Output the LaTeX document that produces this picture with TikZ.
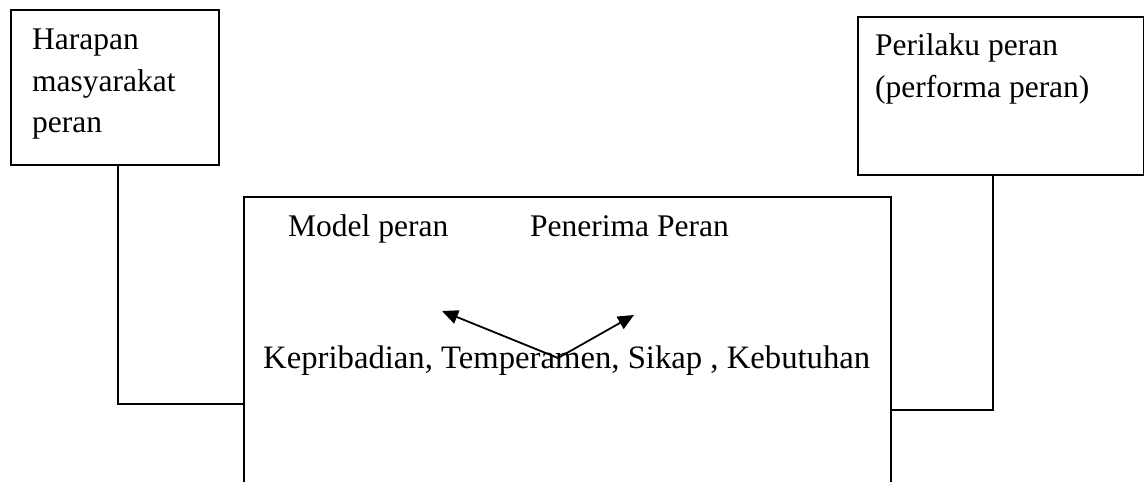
\documentclass[tikz,border=0pt]{standalone}
\usepackage{fontspec}
\setmainfont{Liberation Serif}
\usetikzlibrary{arrows.meta}
\begin{document}
\begin{tikzpicture}[x=1pt,y=-1pt,
  box/.style={draw, line width=2pt, rectangle, inner sep=0pt, anchor=north west},
  lbl/.style={inner sep=0pt, font=\fontsize{31.5}{41.5}\selectfont, align=left},
  conn/.style={line width=2pt},
  arr/.style={line width=1.8pt, -{Triangle[length=16pt,width=14pt]}}]
\useasboundingbox (0,0) rectangle (1144,482);
\clip (0,0) rectangle (1144,482);
\fill[white] (0,0) rectangle (1144,482);
% boxes
\node[box, minimum width=208pt, minimum height=155pt] (lbox) at (10,9) {};
\node[box, minimum width=286pt, minimum height=158pt] (rbox) at (857,16) {};
\node[box, minimum width=647pt, minimum height=420pt] (cbox) at (243,196) {};
% texts
\node[lbl, anchor=base west] (t1) at (32,49) {Harapan};
\node[lbl, anchor=base west] (t2) at (32,91) {masyarakat};
\node[lbl, anchor=base west] (t3) at (32,132) {peran};
\node[lbl, anchor=base west] (r1) at (875,55) {Perilaku peran};
\node[lbl, anchor=base west] (r2) at (875,97) {(performa peran)};
\node[lbl, anchor=base west] (model) at (288,236) {Model peran};
\node[lbl, anchor=base west] (terima) at (530,236) {Penerima Peran};
\node[lbl, anchor=base west, font=\fontsize{32.7}{41.5}\selectfont] (kep) at (263,368) {Kepribadian, Temperamen, Sikap , Kebutuhan};
% connectors
\coordinate (lj) at (243,404);
\coordinate (rj) at (890,410);
\coordinate (src) at (558,358);
\coordinate (tipA) at (442,311);
\coordinate (tipB) at (634,315);
\draw[conn] ([xshift=3pt]lbox.south) |- (lj);
\draw[conn] ([xshift=-8pt]rbox.south) |- (rj);
\draw[arr] (src) -- (tipA);
\draw[arr] (src) -- (tipB);
\end{tikzpicture}
\end{document}
